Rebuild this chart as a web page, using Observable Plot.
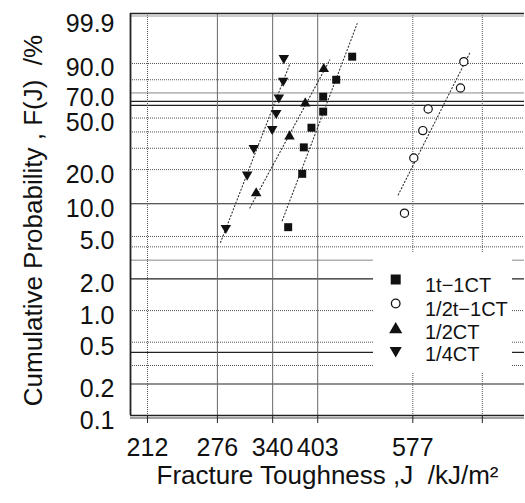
<!DOCTYPE html>
<html><head><meta charset="utf-8">
<script src="https://cdn.jsdelivr.net/npm/d3@7"></script>
<script src="https://cdn.jsdelivr.net/npm/@observablehq/plot@0.6"></script>
<style>
body{margin:0;background:#fff;}
#wrap{position:relative;width:525px;height:503px;font-family:"Liberation Sans",Arial,Helvetica,sans-serif;}
#legend{position:absolute;left:373px;top:252px;width:139px;height:120px;background:#fff;}
</style></head><body><div id="wrap"></div>
<script>
// ---- data ----
const seriesNames = ["1t\u22121CT", "1/2t\u22121CT", "1/2CT", "1/4CT"];

const J_1t1CT = [459.0, 432.1, 411.4, 411.4, 393.6, 382.4, 380.1, 360.5];
const F_1t1CT = [93.1, 80.0, 67.0, 55.0, 42.9, 30.5, 18.4, 6.1];

const J_halft1CT = [699.4, 690.7, 611.4, 599.1, 579.1, 559.1];
const F_halft1CT = [90.9, 73.9, 57.1, 40.9, 25.0, 8.2];

const J_halfCT = [412.3, 384.5, 362.3, 319.5];
const F_halfCT = [87.0, 61.6, 37.1, 12.4];

const J_quarterCT = [354.6, 353.8, 348.0, 344.6, 339.4, 316.6, 308.8, 284.9];
const F_quarterCT = [92.5, 79.3, 66.4, 53.9, 42.0, 30.2, 18.1, 6.0];

// fitted Weibull lines (endpoints)
const fitJ = [[352.5, 467.7], [546.0, 717.3], [311.9, 421.8], [279.3, 362.7]];
const fitF = [[7.0, 99.6], [12.0, 95.0], [9.15, 91.7], [4.4, 89.7]];

const xTicks = [212, 276, 340, 403, 577, 750];
const yTicks = [99.9, 90, 70, 50, 20, 10, 5, 2, 1, 0.5, 0.2, 0.1];
const yTickLabels = ["99.9", "90.0", "70.0", "50.0", "20.0", "10.0", "5.0", "2.0", "1.0", "0.5", "0.2", "0.1"];
const gridF = [90, 80, 70, 63.2, 60, 50, 40, 30, 20, 10, 5, 4, 3, 2, 1, 0.5, 0.4, 0.3, 0.2];

const xLabel = "Fracture Toughness ,J\u00a0\u00a0/kJ/m\u00b2";
const yLabel = "Cumulative Probability , F(J)\u00a0\u00a0/%";

// ---- build ----
const W = F => Math.log(-Math.log(1 - F / 100));
const xDomain = [198.84, 879.4];
const yDomain = [W(0.1), W(99.9)];

const pts = (J, F, s) => J.map((j, i) => ({J: j, F: F[i], s}));
const data = [
  pts(J_1t1CT, F_1t1CT, 0),
  pts(J_halft1CT, F_halft1CT, 1),
  pts(J_halfCT, F_halfCT, 2),
  pts(J_quarterCT, F_quarterCT, 3)
];
const fits = fitJ.flatMap((js, k) => js.map((j, i) => ({J: j, F: fitF[k][i], s: k})));

const triDown = {
  draw(context, size) {
    const y = Math.sqrt(size / (Math.sqrt(3) * 3));
    context.moveTo(0, y * 2);
    context.lineTo(-Math.sqrt(3) * y, -y);
    context.lineTo(Math.sqrt(3) * y, -y);
    context.closePath();
  }
};

const solidGrid = new Set([70, 63.2, 60, 10, 3, 2, 0.4, 0.2]);
const darkGrid = new Set([63.2, 60, 10, 2, 0.4, 0.2]);
const ink = "#111";

const marks = [
  // horizontal grid
  Plot.ruleY(gridF.filter(f => !solidGrid.has(f)), {y: W, stroke: "#555", strokeWidth: 1, strokeDasharray: "1,1"}),
  Plot.ruleY(gridF.filter(f => solidGrid.has(f) && !darkGrid.has(f)), {y: W, stroke: "#888", strokeWidth: 1}),
  Plot.ruleY(gridF.filter(f => darkGrid.has(f)), {y: W, stroke: "#222", strokeWidth: 1.1}),
  // vertical grid
  Plot.ruleX(xTicks.filter((d, i) => i === 1 || i === 2 || i === 3), {x: d => d, stroke: "#666", strokeWidth: 1}),
  Plot.ruleX(xTicks.filter((d, i) => i === 0 || i === 4 || i === 5), {x: d => d, stroke: "#555", strokeWidth: 1, strokeDasharray: "1,1"}),
  // frame (double lines top and bottom, left border)
  Plot.ruleY([99.9, 0.1], {y: W, stroke: "#222", strokeWidth: 1.3}),
  Plot.ruleY([99.9], {y: W, dy: 2.5, stroke: "#999", strokeWidth: 1}),
  Plot.ruleY([0.1], {y: W, dy: 2.5, stroke: "#444", strokeWidth: 1.2}),
  Plot.ruleX([xDomain[0]], {x: d => d, stroke: "#222", strokeWidth: 1.8}),
  // fit lines
  Plot.line(fits, {x: "J", y: d => W(d.F), z: "s", stroke: "#333", strokeWidth: 1.1, strokeDasharray: "1.2,2.3"}),
  // points
  Plot.dot(data[0], {x: "J", y: d => W(d.F), symbol: "square", fill: ink, r: 4.5}),
  Plot.dot(data[1], {x: "J", y: d => W(d.F), symbol: "circle", fill: "white", stroke: ink, strokeWidth: 1.2, r: 4.1}),
  Plot.dot(data[2], {x: "J", y: d => W(d.F), symbol: "triangle", fill: ink, r: 3.9}),
  Plot.dot(data[3], {x: "J", y: d => W(d.F), symbol: triDown, fill: ink, r: 3.9}),
  // x axis ticks + labels
  Plot.axisX(xTicks, {tickSize: 8, tickPadding: 15, fontSize: 25, tickFormat: d => String(d), stroke: "#222", fill: ink, label: null}),
  // y tick labels
  Plot.text(yTicks.slice(1), {y: W, frameAnchor: "left", textAnchor: "end", dx: -16, dy: 5, fontSize: 25, fill: ink, text: (d, i) => yTickLabels[i + 1]}),
  Plot.text(yTicks.slice(0, 1), {y: W, frameAnchor: "left", textAnchor: "end", dx: -16, dy: 10, fontSize: 25, fill: ink, text: (d, i) => yTickLabels[i]}),
  // axis titles
  Plot.text([yLabel], {frameAnchor: "left", textAnchor: "middle", lineAnchor: "middle", rotate: -90, dx: -97, dy: 6, fontSize: 26, fill: ink, text: d => d}),
  Plot.text([xLabel], {frameAnchor: "bottom", textAnchor: "middle", lineAnchor: "middle", dy: 60, fontSize: 26, fill: ink, text: d => d})
];

const chart = Plot.plot({
  width: 525,
  height: 503,
  marginLeft: 130,
  marginRight: 1,
  marginTop: 13,
  marginBottom: 88,
  style: {fontFamily: '"Liberation Sans", Arial, Helvetica, sans-serif', background: "white", overflow: "visible"},
  x: {type: "log", domain: xDomain, axis: null, label: null},
  y: {type: "linear", domain: yDomain, axis: null, label: null},
  marks
});

const wrap = document.getElementById("wrap");
wrap.appendChild(chart);

// legend (inside the plot area, white box)
const leg = document.createElement("div");
leg.id = "legend";
const lsvg = d3.select(leg).append("svg").attr("width", 139).attr("height", 120);
const legSymbols = [
  {sym: d3.symbolSquare, size: 100, fill: ink, stroke: "none"},
  {sym: d3.symbolCircle, size: Math.PI * 4.3 * 4.3, fill: "white", stroke: ink},
  {sym: d3.symbolTriangle, size: 75, fill: ink, stroke: "none"},
  {sym: triDown, size: 64, fill: ink, stroke: "none"}
];
const symY = [27.5, 51.5, 77.5, 98.5];
const txtY = [33, 56.5, 79.5, 101.5];
seriesNames.forEach((name, i) => {
  lsvg.append("path")
    .attr("d", d3.symbol(legSymbols[i].sym, legSymbols[i].size)())
    .attr("transform", `translate(22.7,${symY[i]})`)
    .attr("fill", legSymbols[i].fill)
    .attr("stroke", legSymbols[i].stroke)
    .attr("stroke-width", 1.3);
  lsvg.append("text")
    .attr("x", 52).attr("y", txtY[i])
    .attr("dy", "0.35em")
    .attr("font-size", 20)
    .attr("fill", ink)
    .attr("font-family", '"Liberation Sans", Arial, sans-serif')
    .text(name);
});
wrap.appendChild(leg);
</script>
</body></html>
